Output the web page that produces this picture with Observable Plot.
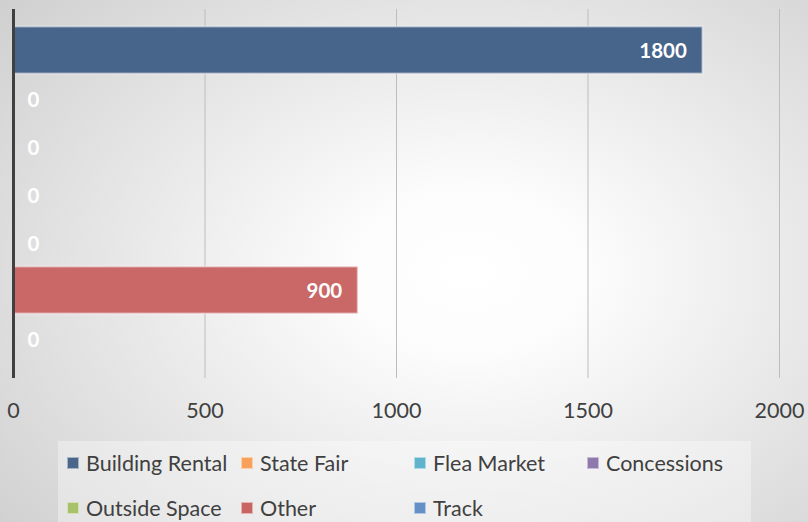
<!DOCTYPE html>
<html>
<head>
<meta charset="utf-8">
<script src="https://cdn.jsdelivr.net/npm/d3@7"></script>
<script src="https://cdn.jsdelivr.net/npm/@observablehq/plot@0.6"></script>
<style>
  html, body { margin: 0; padding: 0; }
  #wrap {
    position: relative; width: 808px; height: 522px; overflow: hidden;
    background: radial-gradient(ellipse 75% 80% at 58% 52%, #ffffff 0%, #fcfcfc 20%, #e6e6e6 60%, #d0d0d0 100%);
    font-family: Lato, "Open Sans", sans-serif;
  }
  #chart svg { display: block; background: transparent; }
  #legend {
    position: absolute; left: 58px; top: 441px; width: 693px; height: 90px;
    background: rgba(255,255,255,0.35);
  }
  .item { position: absolute; display: flex; align-items: center; font-size: 21.5px; color: #404040; white-space: nowrap; }
  .sw { width: 12px; height: 12px; margin-right: 7px; box-sizing: border-box; border: 1px solid rgba(255,255,255,0.5); }
</style>
</head>
<body>
<div id="wrap">
  <div id="chart"></div>
  <div id="legend"></div>
</div>
<script>
const series = ["Building Rental", "State Fair", "Flea Market", "Concessions", "Outside Space", "Other", "Track"];
const values = [1800, 0, 0, 0, 0, 900, 0];
const colors = ["#47648a", "#f79646", "#4bacc6", "#8064a2", "#9bbb59", "#c96866", "#4f81bd"];
const swatchColors = ["#4a6689", "#f9a05a", "#5fb4cc", "#8f78ad", "#a6c26a", "#c86462", "#6590c6"];
const xTicks = [0, 500, 1000, 1500, 2000];

const data = series.map((s, i) => ({series: s, value: values[i]}));

const chart = Plot.plot({
  width: 808,
  height: 436,
  marginLeft: 13,
  marginRight: 29,
  marginTop: 9,
  marginBottom: 58,
  style: {background: "transparent", fontFamily: "Lato, 'Open Sans', sans-serif"},
  x: {domain: [0, 2000]},
  y: {domain: series, range: [24, 363], padding: 0},
  color: {domain: series, range: colors},
  marks: [
    Plot.ruleX(xTicks.filter(d => d > 0), {stroke: "#bdbdbd", strokeWidth: 1}),
    Plot.barX(data, {x: "value", y: "series", fill: "series", insetTop: 0.5, insetBottom: 0.5,
      stroke: "#ffffff", strokeOpacity: 0.45, strokeWidth: 2}),
    Plot.text(data.filter(d => d.value > 0), {x: "value", y: "series", text: d => String(d.value),
      textAnchor: "end", dx: -16, dy: 1, fill: "white", fontWeight: "bold", fontSize: 20.5}),
    Plot.text(data.filter(d => d.value === 0), {x: "value", y: "series", text: d => String(d.value),
      textAnchor: "start", dx: 14, dy: 2, fill: "white", fontWeight: "bold", fontSize: 20.5}),
    Plot.ruleX([0], {stroke: "#404040", strokeWidth: 3}),
    Plot.axisX(xTicks, {tickSize: 0, tickPadding: 24, fontSize: 21.5, color: "#404040", label: null, tickFormat: d => String(d)}),
    Plot.axisY({ticks: [], label: null})
  ]
});
document.getElementById("chart").appendChild(chart);

const legend = document.getElementById("legend");
const colX = [9, 183, 356, 529];
series.forEach((s, i) => {
  const row = Math.floor(i / 4), col = i % 4;
  const el = document.createElement("div");
  el.className = "item";
  el.style.left = colX[col] + "px";
  el.style.top = (row === 0 ? 22 : 67) - 13 + "px";
  el.style.height = "26px";
  el.innerHTML = `<span class="sw" style="background:${swatchColors[i]}"></span><span>${s}</span>`;
  legend.appendChild(el);
});
</script>
</body>
</html>
